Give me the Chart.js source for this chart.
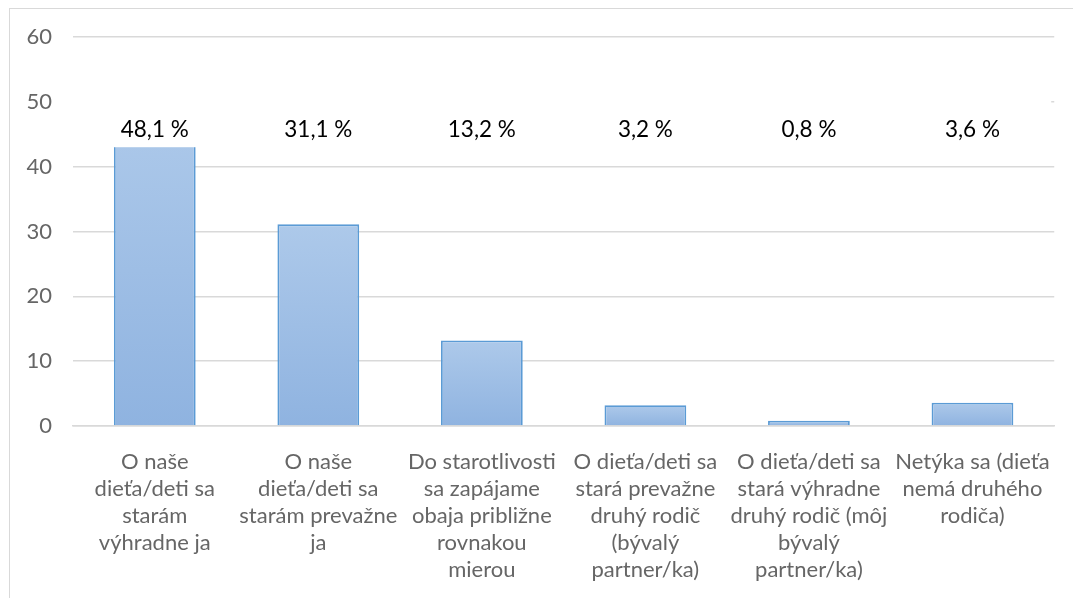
<!DOCTYPE html>
<html>
<head>
<meta charset="utf-8">
<script src="https://cdn.jsdelivr.net/npm/chart.js@4.4.1/dist/chart.umd.min.js"></script>
<style>
  html, body { margin: 0; padding: 0; background: #fff; }
  #wrap { position: relative; width: 1073px; height: 598px; overflow: hidden; }
  #frame { position: absolute; left: 9px; top: 8px; width: 1100px; height: 620px; border-left: 1px solid #d9d9d9; border-top: 1px solid #d9d9d9; box-sizing: border-box; pointer-events: none; }
  canvas { position: absolute; left: 0; top: 0; }
</style>
</head>
<body>
<div id="wrap">
  <canvas id="c" width="1073" height="598"></canvas>
  <div id="frame"></div>
</div>
<script>
const categories = [
  ["O naše", "dieťa/deti sa", "starám", "výhradne ja"],
  ["O naše", "dieťa/deti sa", "starám prevažne", "ja"],
  ["Do starotlivosti", "sa zapájame", "obaja približne", "rovnakou", "mierou"],
  ["O dieťa/deti sa", "stará prevažne", "druhý rodič", "(bývalý", "partner/ka)"],
  ["O dieťa/deti sa", "stará výhradne", "druhý rodič (môj", "bývalý", "partner/ka)"],
  ["Netýka sa (dieťa", "nemá druhého", "rodiča)"]
];
const values = [48.1, 31.1, 13.2, 3.2, 0.8, 3.6];
const dataLabels = ["48,1 %", "31,1 %", "13,2 %", "3,2 %", "0,8 %", "3,6 %"];
const yTicks = [0, 10, 20, 30, 40, 50, 60];

const FONT = "Lato, 'Open Sans', sans-serif";
const LABEL_VALUE = 45.7;   // vertical position of the data label band (axis units)
const MASK_LOW = 43.0;      // white label band, lower edge (axis units)
const MASK_HIGH = 52.0;     // white label band, upper edge (axis units)

function barGradient(ctx) {
  const chart = ctx.chart;
  const y = chart.scales && chart.scales.y;
  if (!chart.chartArea || !y || ctx.parsed === undefined) return '#a3c1e6';
  const top = y.getPixelForValue(ctx.parsed.y);
  const bot = y.getPixelForValue(0);
  const g = chart.ctx.createLinearGradient(0, top, 0, bot);
  g.addColorStop(0, '#adc9ea');
  g.addColorStop(1, '#8fb3e0');
  return g;
}

const labelPlugin = {
  id: 'labelBand',
  afterDatasetsDraw(chart) {
    const c = chart.ctx;
    const y = chart.scales.y;
    const area = chart.chartArea;
    c.save();
    c.fillStyle = '#ffffff';
    const yt = y.getPixelForValue(MASK_HIGH);
    const yb = y.getPixelForValue(MASK_LOW);
    c.fillRect(area.left - 1, yt, area.right - area.left - 2, yb - yt);
    c.fillStyle = '#000000';
    c.font = "22.5px " + FONT;
    c.textAlign = 'center';
    c.textBaseline = 'middle';
    const meta = chart.getDatasetMeta(0);
    meta.data.forEach((bar, i) => {
      c.fillText(dataLabels[i], bar.x, y.getPixelForValue(LABEL_VALUE));
    });
    c.restore();
  }
};

new Chart(document.getElementById('c'), {
  type: 'bar',
  data: {
    labels: categories,
    datasets: [{
      data: values,
      backgroundColor: barGradient,
      borderColor: '#5b9bd5',
      borderWidth: 1.8,
      categoryPercentage: 1.0,
      barPercentage: 0.5
    }]
  },
  options: {
    responsive: false,
    animation: false,
    devicePixelRatio: 1,
    layout: { padding: { left: 0, right: 17, top: 37, bottom: 0 } },
    plugins: { legend: { display: false }, tooltip: { enabled: false } },
    scales: {
      x: {
        grid: { display: false, drawTicks: false },
        border: { display: true, color: '#d9d9d9', width: 1.5 },
        ticks: { color: '#666666', font: { family: FONT, size: 22, lineHeight: 1.23 }, padding: 22, maxRotation: 0, autoSkip: false },
        afterFit(s) { s.height = 172; }
      },
      y: {
        min: 0, max: 60,
        afterBuildTicks(s) { s.ticks = yTicks.map(v => ({ value: v })); },
        grid: { color: '#d9d9d9', lineWidth: 1.5, drawTicks: false },
        border: { display: false },
        ticks: { color: '#666666', font: { family: FONT, size: 22 }, padding: 21 },
        afterFit(s) { s.width = 73; }
      }
    }
  },
  plugins: [labelPlugin]
});
</script>
</body>
</html>
